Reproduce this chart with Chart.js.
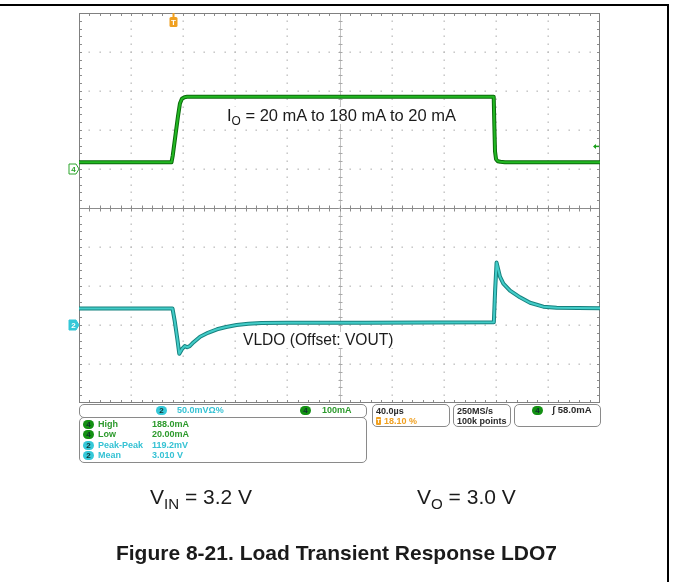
<!DOCTYPE html>
<html>
<head>
<meta charset="utf-8">
<script src="https://cdn.jsdelivr.net/npm/chart.js@4.4.1/dist/chart.umd.min.js"></script>
<style>
  html, body { margin: 0; padding: 0; background: #fff; }
  #wrap { position: relative; width: 673px; height: 582px; overflow: hidden; }
  #scope { position: absolute; left: 0; top: 0; }
  .frameTop { position: absolute; left: 0; top: 4px; width: 669px; height: 2px; background: #000; }
  .frameRight { position: absolute; left: 667px; top: 4px; width: 2px; height: 578px; background: #000; }
  .t { position: absolute; white-space: nowrap; font-family: "Liberation Sans", Arial, sans-serif; color: #1b1b1b; line-height: 1; }
  .t sub { font-size: 0.72em; vertical-align: -0.3em; line-height: 0; }
  .note { background: #fff; padding: 0 2px; }
  .box { position: absolute; border: 1px solid #8a8a8a; border-radius: 5px; box-sizing: border-box; background: #fff; }
  .s { position: absolute; white-space: nowrap; font: bold 9px "Liberation Sans", Arial, sans-serif; line-height: 10px; }
  .badge { position: absolute; width: 11px; height: 9px; border-radius: 5px; font: bold 8px "Liberation Sans", Arial, sans-serif; line-height: 9px; text-align: center; color: #10302f; }
  .cy { color: #35c2d4; }
  .gr { color: #2c9a2c; }
  .dk { color: #2a2a2a; }
  .or { color: #f0a020; }
  .bcy { background: #35c8d8; }
  .bgr { background: #139013; }
</style>
</head>
<body>
<div id="wrap">
  <canvas id="scope" width="673" height="582"></canvas>
  <div class="frameTop"></div>
  <div class="frameRight"></div>

  <div class="t note" style="left:225px; top:107px; font-size:16.5px;">I<sub>O</sub> = 20 mA to 180 mA to 20 mA</div>
  <div class="t note" style="left:241px; top:332px; font-size:15.6px;">VLDO (Offset: VOUT)</div>

  <!-- channel scale bar -->
  <div class="box" style="left:79px; top:404px; width:288px; height:14px;"></div>
  <div class="badge bcy" style="left:156px; top:406px;">2</div>
  <div class="s cy" style="left:177px; top:405px;">50.0mVΩ%</div>
  <div class="badge bgr" style="left:300px; top:406px;">4</div>
  <div class="s gr" style="left:322px; top:405px;">100mA</div>

  <!-- measurements -->
  <div class="box" style="left:79px; top:417px; width:288px; height:46px;"></div>
  <div class="badge bgr" style="left:83px; top:420px;">4</div>
  <div class="s gr" style="left:98px; top:419px;">High</div>
  <div class="s gr" style="left:152px; top:419px;">188.0mA</div>
  <div class="badge bgr" style="left:83px; top:430px;">4</div>
  <div class="s gr" style="left:98px; top:429px;">Low</div>
  <div class="s gr" style="left:152px; top:429px;">20.00mA</div>
  <div class="badge bcy" style="left:83px; top:441px;">2</div>
  <div class="s cy" style="left:98px; top:440px;">Peak-Peak</div>
  <div class="s cy" style="left:152px; top:440px;">119.2mV</div>
  <div class="badge bcy" style="left:83px; top:451px;">2</div>
  <div class="s cy" style="left:98px; top:450px;">Mean</div>
  <div class="s cy" style="left:152px; top:450px;">3.010 V</div>

  <!-- timebase / acquisition / trigger -->
  <div class="box" style="left:372px; top:404px; width:78px; height:23px;"></div>
  <div class="s dk" style="left:376px; top:406px;">40.0µs</div>
  <div class="badge" style="left:376px; top:417px; width:5px; height:8px; border-radius:1px; background:#f0a020; color:#fff; font-size:6px; line-height:8px;">T</div>
  <div class="s or" style="left:384px; top:416px;">18.10 %</div>
  <div class="box" style="left:453px; top:404px; width:58px; height:23px;"></div>
  <div class="s dk" style="left:457px; top:406px;">250MS/s</div>
  <div class="s dk" style="left:457px; top:416px;">100k points</div>
  <div class="box" style="left:514px; top:404px; width:87px; height:23px;"></div>
  <div class="badge bgr" style="left:532px; top:406px;">4</div>
  <div class="s dk" style="left:552px; top:405px; font-size:9.5px;">ʃ 58.0mA</div>

  <div class="t" style="left:150px; top:486px; font-size:21px;">V<sub>IN</sub> = 3.2 V</div>
  <div class="t" style="left:417px; top:486px; font-size:21px;">V<sub>O</sub> = 3.0 V</div>
  <div class="t" style="left:0; width:673px; text-align:center; top:542px; font-size:21px; font-weight:bold;">Figure 8-21. Load Transient Response LDO7</div>
</div>

<script>
// time axis in microseconds (40 us/div, 10 divisions)
const currentTime = [0, 71, 72, 74, 76, 77.5, 79, 81, 83, 318.4, 318.9, 319.4, 320.2, 321.5, 323.5, 327, 400];
const currentMa   = [17, 17, 35, 85, 135, 168, 180, 184, 185, 185, 110, 45, 25, 20, 18.5, 17.5, 17.5];

const voltageTime = [0, 71.8, 73.5, 75.5, 77, 79, 81.2, 83, 85, 88, 93, 99, 106, 113, 121, 130, 140, 160, 220, 318.5, 319.5, 320.6, 323.2, 325.8, 330.9, 338.6, 346.3, 356.5, 366.7, 400];
const voltageMv   = [21, 21, 5, -18, -37, -31, -27, -28.5, -27, -22, -15, -10, -5.5, -2.5, 0, 1.5, 2.5, 3, 3, 3.5, 45, 80, 62, 53, 44, 35.5, 28.5, 23.5, 22, 21.5];

const triggerTimeUs = 72.4;
const triggerLevelMa = 58;

const pts = (xs, ys) => xs.map((x, i) => ({ x: x, y: ys[i] }));

const graticule = {
  id: 'graticule',
  beforeDatasetsDraw(chart) {
    const { ctx, chartArea: a } = chart;
    const dx = (a.right - a.left) / 10;
    const dy = (a.bottom - a.top) / 10;
    ctx.save();
    ctx.fillStyle = '#bdbdbd';
    for (let i = 1; i < 10; i++) {
      const gx = Math.round(a.left + i * dx);
      for (let k = 1; k < 50; k++) ctx.fillRect(gx - 0.5, Math.round(a.top + k * dy / 5) - 0.5, 1.4, 1.4);
      if (i === 5) continue;
      const gy = Math.round(a.top + i * dy);
      for (let k = 1; k < 50; k++) ctx.fillRect(Math.round(a.left + k * dx / 5) - 0.5, gy - 0.5, 1.4, 1.4);
    }
    const line = (x1, y1, x2, y2) => { ctx.beginPath(); ctx.moveTo(x1, y1); ctx.lineTo(x2, y2); ctx.stroke(); };
    const midX = Math.round(a.left + 5 * dx) + 0.5;
    const midY = Math.round(a.top + 5 * dy) + 0.5;
    ctx.lineWidth = 1;
    ctx.strokeStyle = '#c4c4c4';
    line(midX, a.top, midX, a.bottom);
    ctx.strokeStyle = '#8c8c8c';
    line(a.left, midY, a.right, midY);
    for (let k = 1; k < 50; k++) {
      const x = Math.round(a.left + k * dx / 5) + 0.5;
      line(x, a.top, x, a.top + 3);
      line(x, a.bottom - 3, x, a.bottom);
      line(x, midY - 3, x, midY + 3);
      const y = Math.round(a.top + k * dy / 5) + 0.5;
      line(a.left, y, a.left + 3, y);
      line(a.right - 3, y, a.right, y);
      ctx.strokeStyle = '#a8a8a8';
      line(midX - 2, y, midX + 2, y);
      ctx.strokeStyle = '#8c8c8c';
    }
    ctx.strokeStyle = '#808080';
    ctx.strokeRect(a.left + 0.5, a.top + 0.5, a.right - a.left - 1, a.bottom - a.top - 1);
    ctx.restore();
  },
  afterDraw(chart) {
    const { ctx, chartArea: a, scales } = chart;
    ctx.save();
    // channel markers
    const marker = (y, fill, stroke, txt, txtColor) => {
      ctx.beginPath();
      ctx.moveTo(a.left - 10, y - 5);
      ctx.lineTo(a.left - 3, y - 5);
      ctx.lineTo(a.left, y);
      ctx.lineTo(a.left - 3, y + 5);
      ctx.lineTo(a.left - 10, y + 5);
      ctx.closePath();
      ctx.fillStyle = fill; ctx.fill();
      ctx.strokeStyle = stroke; ctx.lineWidth = 1; ctx.stroke();
      ctx.fillStyle = txtColor;
      ctx.font = 'bold 8px "Liberation Sans", Arial, sans-serif';
      ctx.textAlign = 'center'; ctx.textBaseline = 'middle';
      ctx.fillText(txt, a.left - 5.5, y + 0.5);
    };
    marker(scales.yI.getPixelForValue(0), '#ffffff', '#2ca52c', '4', '#2ca52c');
    marker(scales.yV.getPixelForValue(0), '#35c8d8', '#35c8d8', '2', '#ffffff');
    // trigger level arrow
    const ty = scales.yI.getPixelForValue(triggerLevelMa);
    ctx.strokeStyle = '#1aa01a'; ctx.fillStyle = '#1aa01a'; ctx.lineWidth = 1.5;
    ctx.beginPath(); ctx.moveTo(a.right - 6, ty); ctx.lineTo(a.right - 1, ty); ctx.stroke();
    ctx.beginPath(); ctx.moveTo(a.right - 7, ty); ctx.lineTo(a.right - 4, ty - 2.5); ctx.lineTo(a.right - 4, ty + 2.5); ctx.closePath(); ctx.fill();
    // trigger position tag
    const tx = Math.round(scales.x.getPixelForValue(triggerTimeUs));
    ctx.fillStyle = '#f0a020';
    ctx.fillRect(tx - 0.5, a.top, 2, 4);
    ctx.beginPath();
    ctx.roundRect(tx - 3.5, a.top + 4, 8, 10, 1.5);
    ctx.fill();
    ctx.fillStyle = '#ffffff';
    ctx.font = 'bold 8px "Liberation Sans", Arial, sans-serif';
    ctx.textAlign = 'center'; ctx.textBaseline = 'middle';
    ctx.fillText('T', tx + 0.5, a.top + 9.5);
    ctx.restore();
  }
};

const common = { pointRadius: 0, tension: 0, fill: false, borderJoinStyle: 'round', borderCapStyle: 'round' };

new Chart(document.getElementById('scope'), {
  type: 'line',
  data: {
    datasets: [
      Object.assign({ label: 'IO edge', order: 2, data: pts(currentTime, currentMa), yAxisID: 'yI', borderColor: '#0c6a0c', borderWidth: 4 }, common),
      Object.assign({ label: 'IO', order: 1, data: pts(currentTime, currentMa), yAxisID: 'yI', borderColor: '#22b822', borderWidth: 2 }, common),
      Object.assign({ label: 'VLDO edge', order: 2, data: pts(voltageTime, voltageMv), yAxisID: 'yV', borderColor: '#17827f', borderWidth: 4 }, common),
      Object.assign({ label: 'VLDO', order: 1, data: pts(voltageTime, voltageMv), yAxisID: 'yV', borderColor: '#42ccc8', borderWidth: 2 }, common)
    ]
  },
  options: {
    responsive: false,
    animation: false,
    layout: { padding: { left: 79, right: 73, top: 13, bottom: 179 } },
    plugins: { legend: { display: false }, tooltip: { enabled: false } },
    scales: {
      x: { type: 'linear', min: 0, max: 400, display: false },
      yI: { type: 'linear', position: 'left', min: -600, max: 400, display: false },
      yV: { type: 'linear', position: 'left', min: -100, max: 400, display: false }
    }
  },
  plugins: [graticule]
});
</script>
</body>
</html>
